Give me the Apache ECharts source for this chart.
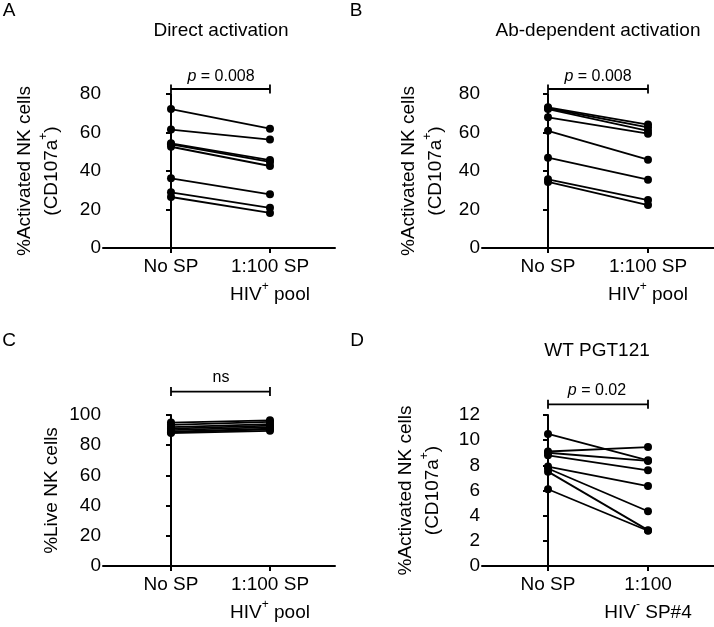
<!DOCTYPE html>
<html><head><meta charset="utf-8">
<script src="https://cdn.jsdelivr.net/npm/echarts@6/dist/echarts.min.js"></script>
<style>html,body{margin:0;padding:0;background:#fff}#c{width:714px;height:627px}</style>
</head><body><div id="c"></div>
<script>
// ---- data ----
const conditions = ['No SP', '1:100 SP'];
const panelA_noSP = [72.2, 61.5, 54.4, 53.9, 52.6, 36.2, 28.9, 26.5];
const panelA_sp   = [62.0, 56.3, 45.7, 44.7, 42.6, 27.9, 20.9, 18.2];
const panelB_noSP = [73.1, 72.6, 72.2, 67.9, 60.9, 46.9, 35.7, 34.3];
const panelB_sp   = [64.1, 62.7, 60.9, 59.4, 45.9, 35.5, 24.9, 22.3];
const panelC_noSP = [95.0, 93.5, 92.0, 91.0, 90.0, 89.0, 88.5, 88.0];
const panelC_sp   = [96.5, 95.5, 94.0, 93.0, 92.0, 91.0, 90.5, 89.5];
const panelD_noSP = [10.5, 9.1, 9.0, 8.8, 7.9, 7.75, 7.5, 6.1];
const panelD_sp   = [8.4, 9.45, 8.35, 7.6, 6.35, 4.35, 2.85, 2.8];
const yTicksA = [0, 20, 40, 60, 80];
const yTicksB = [0, 20, 40, 60, 80];
const yTicksC = [0, 20, 40, 60, 80, 100];
const yTicksD = [0, 2, 4, 6, 8, 10, 12];
const pLabels = ['p = 0.008', 'p = 0.008', 'ns', 'p = 0.02'];
const bracketLevels = [82.6, 82.6, 115.5, 12.85];

const FONT = '"Liberation Sans", Arial, Helvetica, sans-serif';
const FS = 19;
const chart = echarts.init(document.getElementById('c'), null, {renderer: 'canvas'});

const grids = [
  {left: 103, top: 94, width: 232, height: 154},
  {left: 482, top: 94, width: 232, height: 154},
  {left: 103, top: 415, width: 232, height: 153},
  {left: 482, top: 415, width: 232, height: 153}
];
const xRanges = [[-0.687, 1.657], [-0.66, 1.66], [-0.687, 1.657], [-0.66, 1.66]];
const supStyle = {fontSize: 12, fontFamily: FONT, color: '#000', verticalAlign: 'top', padding: [0, 0, 9, 0]};
const nStyle = {fontSize: FS, fontFamily: FONT, color: '#000'};
const xLab2 = [
  '{n|1:100 SP}\n{n|HIV}{s|+}{n| pool}',
  '{n|1:100 SP}\n{n|HIV}{s|+}{n| pool}',
  '{n|1:100 SP}\n{n|HIV}{s|+}{n| pool}',
  '{n|1:100}\n{n|HIV}{s|-}{n| SP#4}'
];
const yNames = [
  '{n|%Activated NK cells}\n{n|(CD107a}{s|+}{n|)}',
  '{n|%Activated NK cells}\n{n|(CD107a}{s|+}{n|)}',
  '{n|%Live NK cells}',
  '{n|%Activated NK cells}\n{n|(CD107a}{s|+}{n|)}'
];
const yNameGaps = [38, 33, 38, 36];
const yTicks = [yTicksA, yTicksB, yTicksC, yTicksD];

const axisLine = {show: true, lineStyle: {color: '#000', width: 2}};
const xAxes = grids.map((g, i) => ({
  gridIndex: i, type: 'value', min: xRanges[i][0], max: xRanges[i][1],
  axisLine: axisLine, splitLine: {show: false},
  axisTick: {show: true, customValues: [0, 1], length: 5, lineStyle: {color: '#000', width: 2}},
  axisLabel: {
    show: true, customValues: [0, 1], margin: 5, lineHeight: 28,
    formatter: v => (Math.abs(v) < 1e-6 ? '{n|' + conditions[0] + '}' : xLab2[i]),
    rich: {n: Object.assign({lineHeight: 28}, nStyle), s: supStyle}
  }
}));
const yAxes = grids.map((g, i) => {
  const t = yTicks[i];
  return {
    gridIndex: i, type: 'value', min: t[0], max: t[t.length - 1], interval: t[1] - t[0],
    axisLine: axisLine, splitLine: {show: false},
    axisTick: {show: true, length: 5, lineStyle: {color: '#000', width: 2}},
    axisLabel: {margin: 2, fontSize: FS, fontFamily: FONT, color: '#000'},
    name: yNames[i], nameLocation: 'middle', nameRotate: 90,
    nameGap: yNameGaps[i],
    nameTextStyle: {lineHeight: 27, rich: {n: Object.assign({lineHeight: 27}, nStyle), s: supStyle}}
  };
});

const series = [];
function addPanel(gi, left, right) {
  left.forEach((v, k) => {
    series.push({
      type: 'line', xAxisIndex: gi, yAxisIndex: gi,
      data: [[0, v], [1, right[k]]],
      symbol: 'circle', symbolSize: 8, showSymbol: true,
      itemStyle: {color: '#000'}, lineStyle: {color: '#000', width: 1.8},
      animation: false, silent: true
    });
  });
  series.push({
    type: 'line', xAxisIndex: gi, yAxisIndex: gi, clip: false,
    data: [[0, bracketLevels[gi]], [1, bracketLevels[gi]]],
    symbol: 'rect', symbolSize: [1.8, 9],
    itemStyle: {color: '#000'}, lineStyle: {color: '#000', width: 1.8},
    animation: false, silent: true
  });
}
addPanel(0, panelA_noSP, panelA_sp);
addPanel(1, panelB_noSP, panelB_sp);
addPanel(2, panelC_noSP, panelC_sp);
addPanel(3, panelD_noSP, panelD_sp);

function txt(text, x, y, size) {
  return {
    type: 'text', x: x, y: y, silent: true,
    style: {text: text, fill: '#000', font: size + 'px ' + FONT,
      align: 'center', verticalAlign: 'middle', textAlign: 'center', textVerticalAlign: 'middle'}
  };
}
function pText(label, x, y) {
  if (label.startsWith('p')) {
    return {type: 'text', x: x, y: y, silent: true,
      style: {text: '{i|p}{r|' + label.slice(1) + '}', align: 'center', verticalAlign: 'middle',
        textAlign: 'center', textVerticalAlign: 'middle',
        rich: {i: {fontStyle: 'italic', fontSize: 16, fontFamily: FONT, fill: '#000'},
               r: {fontSize: 16, fontFamily: FONT, fill: '#000'}}}};
  }
  return txt(label, x, y, 16);
}

chart.setOption({
  animation: false,
  backgroundColor: '#fff',
  grid: grids,
  xAxis: xAxes,
  yAxis: yAxes,
  series: series,
  graphic: [
    txt('A', 9, 11, 19), txt('B', 356, 11, 19), txt('C', 9, 341, 19), txt('D', 357, 341, 19),
    txt('Direct activation', 221, 31, FS),
    txt('Ab-dependent activation', 598, 31, FS),
    txt('WT PGT121', 597, 351, FS),
    pText(pLabels[0], 221, 77), pText(pLabels[1], 598, 77),
    pText(pLabels[2], 221, 378), pText(pLabels[3], 597, 391)
  ]
});
</script></body></html>
